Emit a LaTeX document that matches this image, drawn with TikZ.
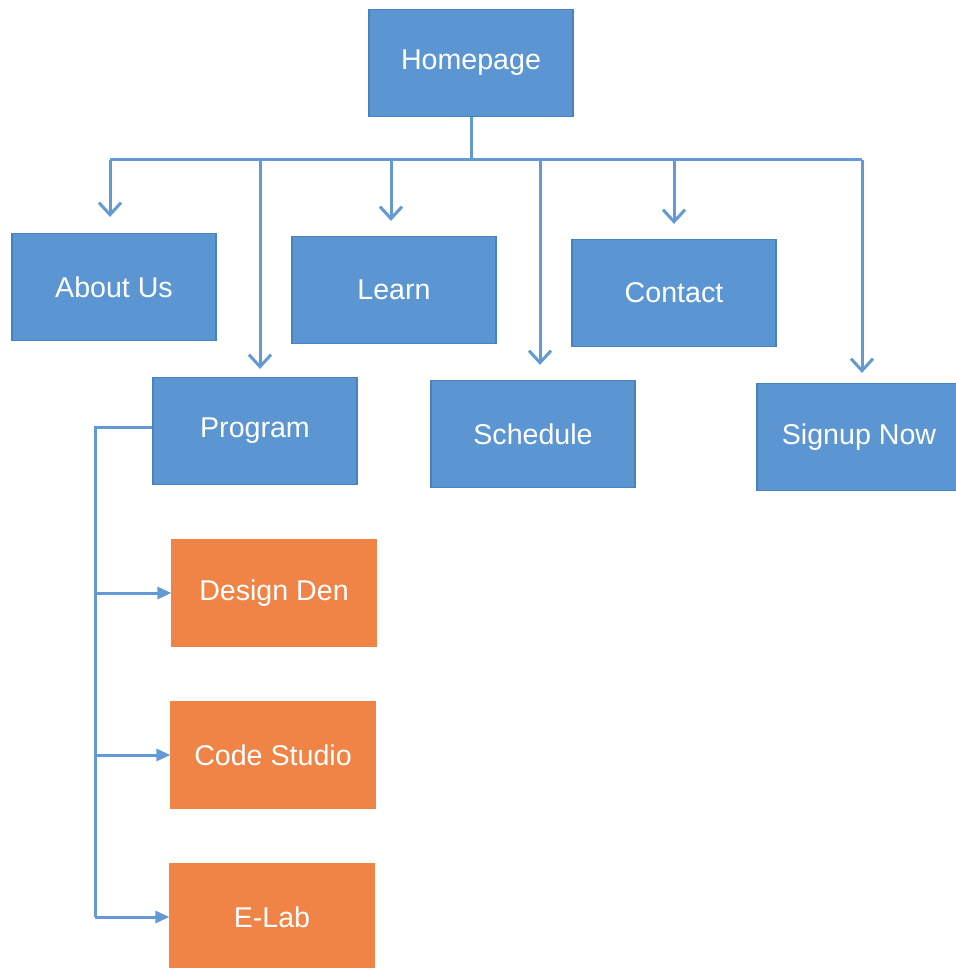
\documentclass[tikz,border=0pt]{standalone}
\usepackage{fontspec}
\setmainfont{Liberation Sans}
\usepackage{xcolor}
\usetikzlibrary{arrows.meta,calc}
\definecolor{boxblue}{HTML}{5B96D2}
\definecolor{edgeblue}{HTML}{4A82BD}
\definecolor{boxorange}{HTML}{EF8446}
\definecolor{lineblue}{HTML}{6399D4}
\tikzset{
    page/.style={draw=edgeblue, line width=0.6pt, fill=boxblue, text=white, minimum width=102pt, minimum height=53.5pt, inner sep=0pt, font=\fontsize{14.3}{17}\selectfont},
    sub/.style={page, draw=boxorange, fill=boxorange},
    link/.style={draw=lineblue, line width=1.5pt},
    down/.style={link, -{Straight Barb[length=6pt,width=11pt]}},
    side/.style={link, -{Triangle[length=7pt,width=6pt]}}}

\begin{document}
\begin{tikzpicture}[x=0.5pt,y=-0.5pt]
\useasboundingbox (0,0) rectangle (955,968);
\node[page] (home) at (471,63) {Homepage};
\node[page] (about) at (114,287) {About Us};
\node[page] (learn) at (394,290) {Learn};
\node[page] (contact) at (674,293) {Contact};
\node[page] (prog) at (255,431) {Program};
\node[page] (sched) at (533,434) {Schedule};
\node[page] (signup) at (859,437) {Signup Now};
\node[sub] (dden) at (274,593) {Design Den};
\node[sub] (cstudio) at (273,755) {Code Studio};
\node[sub] (elab) at (272,917) {E-Lab};

% bus under the homepage
\coordinate (hub) at (471,160);
\coordinate (b1) at (110,160);
\coordinate (b2) at (260,160);
\coordinate (b3) at (391,160);
\coordinate (b4) at (540,160);
\coordinate (b5) at (674,160);
\coordinate (b6) at (862,160);
\draw[link] (home.south) -- (hub);
\draw[link] (b1) -- (b6);

\draw[down, shorten >=8pt] (b1) -- (b1 |- about.north);
\draw[down, shorten >=4pt] (b2) -- (b2 |- prog.north);
\draw[down, shorten >=7.5pt] (b3) -- (b3 |- learn.north);
\draw[down, shorten >=7.5pt] (b4) -- (b4 |- sched.north);
\draw[down, shorten >=7.5pt] (b5) -- (b5 |- contact.north);
\draw[down, shorten >=5pt] (b6) -- (b6 |- signup.north);

% program sub pages
\coordinate (ptop) at (95,427);
\draw[link] ($(prog.west)+(0,-4)$) -- (ptop) -- (ptop |- elab.west);
\draw[side] (ptop |- dden.west) -- (dden.west);
\draw[side] (ptop |- cstudio.west) -- (cstudio.west);
\draw[side] (ptop |- elab.west) -- (elab.west);
\end{tikzpicture}
\end{document}
